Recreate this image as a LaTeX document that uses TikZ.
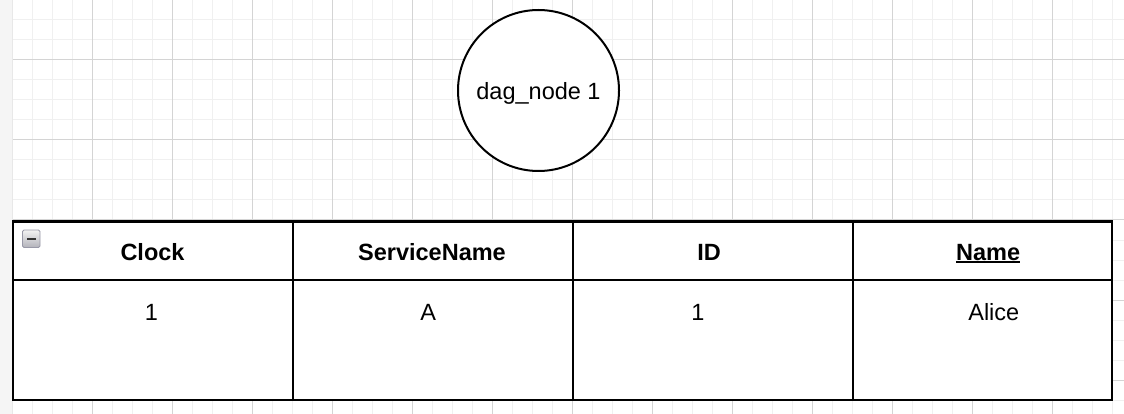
\documentclass[tikz,border=0pt]{standalone}
\usepackage{fontspec}
\setmainfont{Liberation Sans}
\begin{document}
\begin{tikzpicture}[x=1pt,y=-1pt,
  gridminor/.style={draw=black!6, line width=1pt},
  gridmajor/.style={draw=black!17, line width=1pt},
  tableline/.style={draw=black, line width=2pt},
  headtxt/.style={font=\fontsize{23.5}{28}\selectfont\bfseries, inner sep=0pt, anchor=base},
  celltxt/.style={font=\fontsize{23.5}{28}\selectfont, inner sep=0pt, anchor=base}]
\useasboundingbox (0,0) rectangle (1124,414);
\fill[white] (0,0) rectangle (1124,414);
\fill[black!4] (0,0) rectangle (12,414);
\draw[black!9, line width=0.8pt] (12.5,0) -- (12.5,414);
% grid
\foreach \x in {32,52,...,1112} \draw[gridminor] (\x,0) -- (\x,414);
\foreach \y in {0,20,...,400} \draw[gridminor] (13,\y) -- (1124,\y);
\foreach \x in {92,172,...,1112} \draw[gridmajor] (\x,0) -- (\x,414);
\foreach \y in {60,140,...,380} \draw[gridmajor] (13,\y) -- (1124,\y);
% circle node
\node[circle, draw=black, line width=2pt, fill=white, minimum size=161pt, inner sep=0pt,
      font=\fontsize{23.5}{28}\selectfont, text depth=0pt] (dag) at (538.5,90.5) {dag\_node 1};
% table
\fill[white] (13,221.5) rectangle (1112.3,400);
\draw[tableline] (13,221.5) rectangle (1112.3,400);
\draw[tableline] (13,280.3) -- (1112.3,280.3);
\foreach \x in {293.2,573.3,853.3} \draw[tableline] (\x,221.5) -- (\x,400);
% collapse icon
\shade[top color=black!5, bottom color=blue!10!black!30, rounded corners=1.5pt]
  (22.5,230) rectangle (40,247.5);
\draw[draw=blue!15!black!40, line width=0.8pt, rounded corners=1.5pt]
  (22.5,230) rectangle (40,247.5);
\fill[black!80] (27,237.8) rectangle (35.5,240.2);
% header texts
\node[headtxt] (hclock) at (152.5,260) {Clock};
\node[headtxt] (hservice) at (432,260) {ServiceName};
\node[headtxt] (hid) at (709,260) {ID};
\node[headtxt] (hname) at (988.2,260) {Name};
\draw[black, line width=2pt] ([yshift=-2.2pt]hname.base west) -- ([yshift=-2.2pt]hname.base east);
% body texts
\node[celltxt] (vclock) at (151.5,320.5) {1};
\node[celltxt] (vservice) at (428.3,320.5) {A};
\node[celltxt] (vid) at (697.8,320.5) {1};
\node[celltxt] (vname) at (993.8,320.5) {Alice};
\end{tikzpicture}
\end{document}
